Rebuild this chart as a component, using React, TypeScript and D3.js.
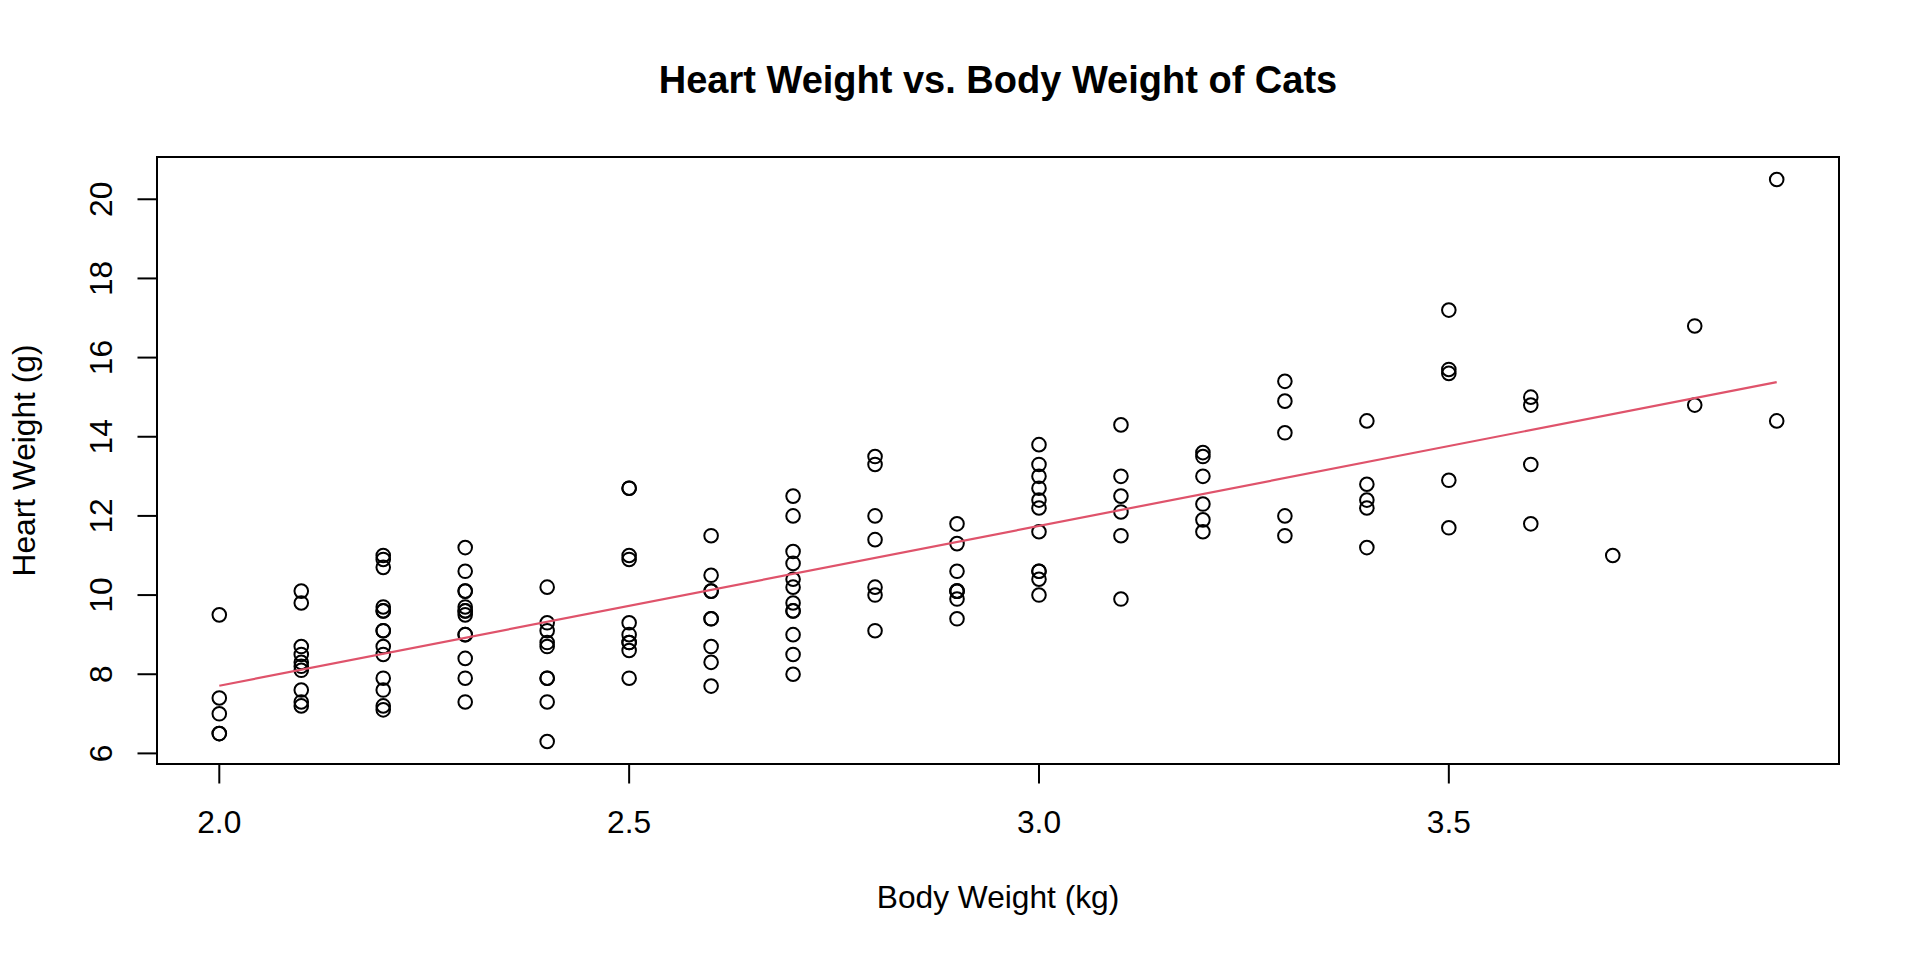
import * as React from "react";
import * as d3 from "d3";

// MASS::cats — body weight (kg) and heart weight (g)
const bodyWeight: number[] = [
  2.0, 2.0, 2.0, 2.1, 2.1, 2.1, 2.1, 2.1, 2.1, 2.1, 2.1, 2.1, 2.2, 2.2, 2.2, 2.2,
  2.2, 2.2, 2.3, 2.3, 2.3, 2.3, 2.3, 2.3, 2.3, 2.3, 2.3, 2.3, 2.3, 2.3, 2.4, 2.4,
  2.4, 2.4, 2.5, 2.5, 2.6, 2.6, 2.6, 2.7, 2.7, 2.7, 2.9, 2.9, 2.9, 3.0, 3.0,
  2.0, 2.0, 2.1, 2.2, 2.2, 2.2, 2.2, 2.2, 2.2, 2.2, 2.2, 2.3, 2.4, 2.4, 2.4, 2.4,
  2.4, 2.5, 2.5, 2.5, 2.5, 2.5, 2.5, 2.5, 2.5, 2.6, 2.6, 2.6, 2.6, 2.6, 2.6, 2.7,
  2.7, 2.7, 2.7, 2.7, 2.7, 2.7, 2.7, 2.7, 2.8, 2.8, 2.8, 2.8, 2.8, 2.8, 2.8, 2.9,
  2.9, 2.9, 2.9, 2.9, 3.0, 3.0, 3.0, 3.0, 3.0, 3.0, 3.0, 3.0, 3.0, 3.1, 3.1, 3.1,
  3.1, 3.1, 3.1, 3.2, 3.2, 3.2, 3.2, 3.2, 3.2, 3.3, 3.3, 3.3, 3.3, 3.3, 3.4, 3.4,
  3.4, 3.4, 3.4, 3.5, 3.5, 3.5, 3.5, 3.5, 3.6, 3.6, 3.6, 3.6, 3.7, 3.8, 3.8, 3.9,
  3.9,
];

const heartWeight: number[] = [
  7.0, 7.4, 9.5, 7.2, 7.3, 7.6, 8.1, 8.2, 8.3, 8.5, 8.7, 9.8, 7.1, 8.7, 9.1, 9.7,
  10.9, 11.0, 7.3, 7.9, 8.4, 9.0, 9.0, 9.5, 9.6, 9.7, 10.1, 10.1, 10.6, 11.2, 6.3, 8.7,
  8.8, 10.2, 9.0, 10.9, 8.7, 10.1, 10.1, 8.5, 10.2, 10.8, 9.9, 10.1, 10.1, 10.6, 13.0,
  6.5, 6.5, 10.1, 7.2, 7.6, 7.9, 8.5, 9.1, 9.6, 9.6, 10.7, 9.6, 7.3, 7.9, 7.9, 9.1,
  9.3, 7.9, 8.6, 8.8, 8.8, 9.3, 11.0, 12.7, 12.7, 7.7, 8.3, 9.4, 9.4, 10.5, 11.5, 8.0,
  9.0, 9.6, 9.6, 9.8, 10.4, 11.1, 12.0, 12.5, 9.1, 10.0, 10.2, 11.4, 12.0, 13.3, 13.5, 9.4,
  10.1, 10.6, 11.3, 11.8, 10.0, 10.4, 10.6, 11.6, 12.2, 12.4, 12.7, 13.3, 13.8, 9.9, 11.5, 12.1,
  12.5, 13.0, 14.3, 11.6, 11.9, 12.3, 13.0, 13.5, 13.6, 11.5, 12.0, 14.1, 14.9, 15.4, 11.2, 12.2,
  12.4, 12.8, 14.4, 11.7, 12.9, 15.6, 15.7, 17.2, 11.8, 13.3, 14.8, 15.0, 11.0, 14.8, 16.8, 14.4,
  20.5,
];

// fitted line endpoints (lm Hwt ~ Bwt)
const fitBwt: number[] = [2.0, 3.9];
const fitHwt: number[] = [7.71, 15.38];

const xTicks: number[] = [2.0, 2.5, 3.0, 3.5];
const yTicks: number[] = [6, 8, 10, 12, 14, 16, 18, 20];

const W = 1920;
const H = 960;
const plot = { left: 157, right: 1839, top: 157, bottom: 764 };
const FONT = "'Liberation Sans', Arial, Helvetica, sans-serif";
const FS = 31.7;

export default function App() {
  React.useEffect(() => {
    document.body.style.margin = "0";
  }, []);

  // R-style 4% extension of the data range
  const xr = d3.extent(bodyWeight) as [number, number];
  const yr = d3.extent(heartWeight) as [number, number];
  const xPad = (xr[1] - xr[0]) * 0.04;
  const yPad = (yr[1] - yr[0]) * 0.04;

  const x = d3.scaleLinear().domain([xr[0] - xPad, xr[1] + xPad]).range([plot.left, plot.right]);
  const y = d3.scaleLinear().domain([yr[0] - yPad, yr[1] + yPad]).range([plot.bottom, plot.top]);

  const fitPath =
    d3
      .line<number>()
      .x((d) => x(d))
      .y((_, i) => y(fitHwt[i]))(fitBwt) ?? "";

  const cx = (plot.left + plot.right) / 2;
  const cy = (plot.top + plot.bottom) / 2;

  return (
    <svg width={W} height={H} style={{ display: "block", background: "#fff" }} fontFamily={FONT}>
      {/* title */}
      <text x={cx} y={93.3} textAnchor="middle" fontSize={38} fontWeight="bold" fill="#000">
        Heart Weight vs. Body Weight of Cats
      </text>

      {/* points */}
      <g fill="none" stroke="#000" strokeWidth={2}>
        {bodyWeight.map((b, i) => (
          <circle key={i} cx={x(b)} cy={y(heartWeight[i])} r={6.8} />
        ))}
      </g>

      {/* fitted line */}
      <path d={fitPath} fill="none" stroke="#DF536B" strokeWidth={2.2} />

      {/* box */}
      <rect
        x={plot.left}
        y={plot.top}
        width={plot.right - plot.left}
        height={plot.bottom - plot.top}
        fill="none"
        stroke="#000"
        strokeWidth={2}
      />

      {/* x axis */}
      <g>
        <line x1={x(xTicks[0])} x2={x(xTicks[xTicks.length - 1])} y1={plot.bottom} y2={plot.bottom} stroke="#000" strokeWidth={2} />
        {xTicks.map((t) => (
          <g key={t}>
            <line x1={x(t)} x2={x(t)} y1={plot.bottom} y2={plot.bottom + 19.5} stroke="#000" strokeWidth={2} />
            <text x={x(t)} y={832.7} textAnchor="middle" fontSize={FS} fill="#000">
              {t.toFixed(1)}
            </text>
          </g>
        ))}
        <text x={cx} y={907.7} textAnchor="middle" fontSize={FS} fill="#000">
          Body Weight (kg)
        </text>
      </g>

      {/* y axis */}
      <g>
        {yTicks.map((t) => (
          <g key={t}>
            <line x1={plot.left - 19.5} x2={plot.left} y1={y(t)} y2={y(t)} stroke="#000" strokeWidth={2} />
            <text
              transform={`translate(111.7,${y(t)}) rotate(-90)`}
              textAnchor="middle"
              fontSize={FS}
              fill="#000"
            >
              {t}
            </text>
          </g>
        ))}
        <text transform={`translate(34.5,${cy}) rotate(-90)`} textAnchor="middle" fontSize={FS} fill="#000">
          Heart Weight (g)
        </text>
      </g>
    </svg>
  );
}
